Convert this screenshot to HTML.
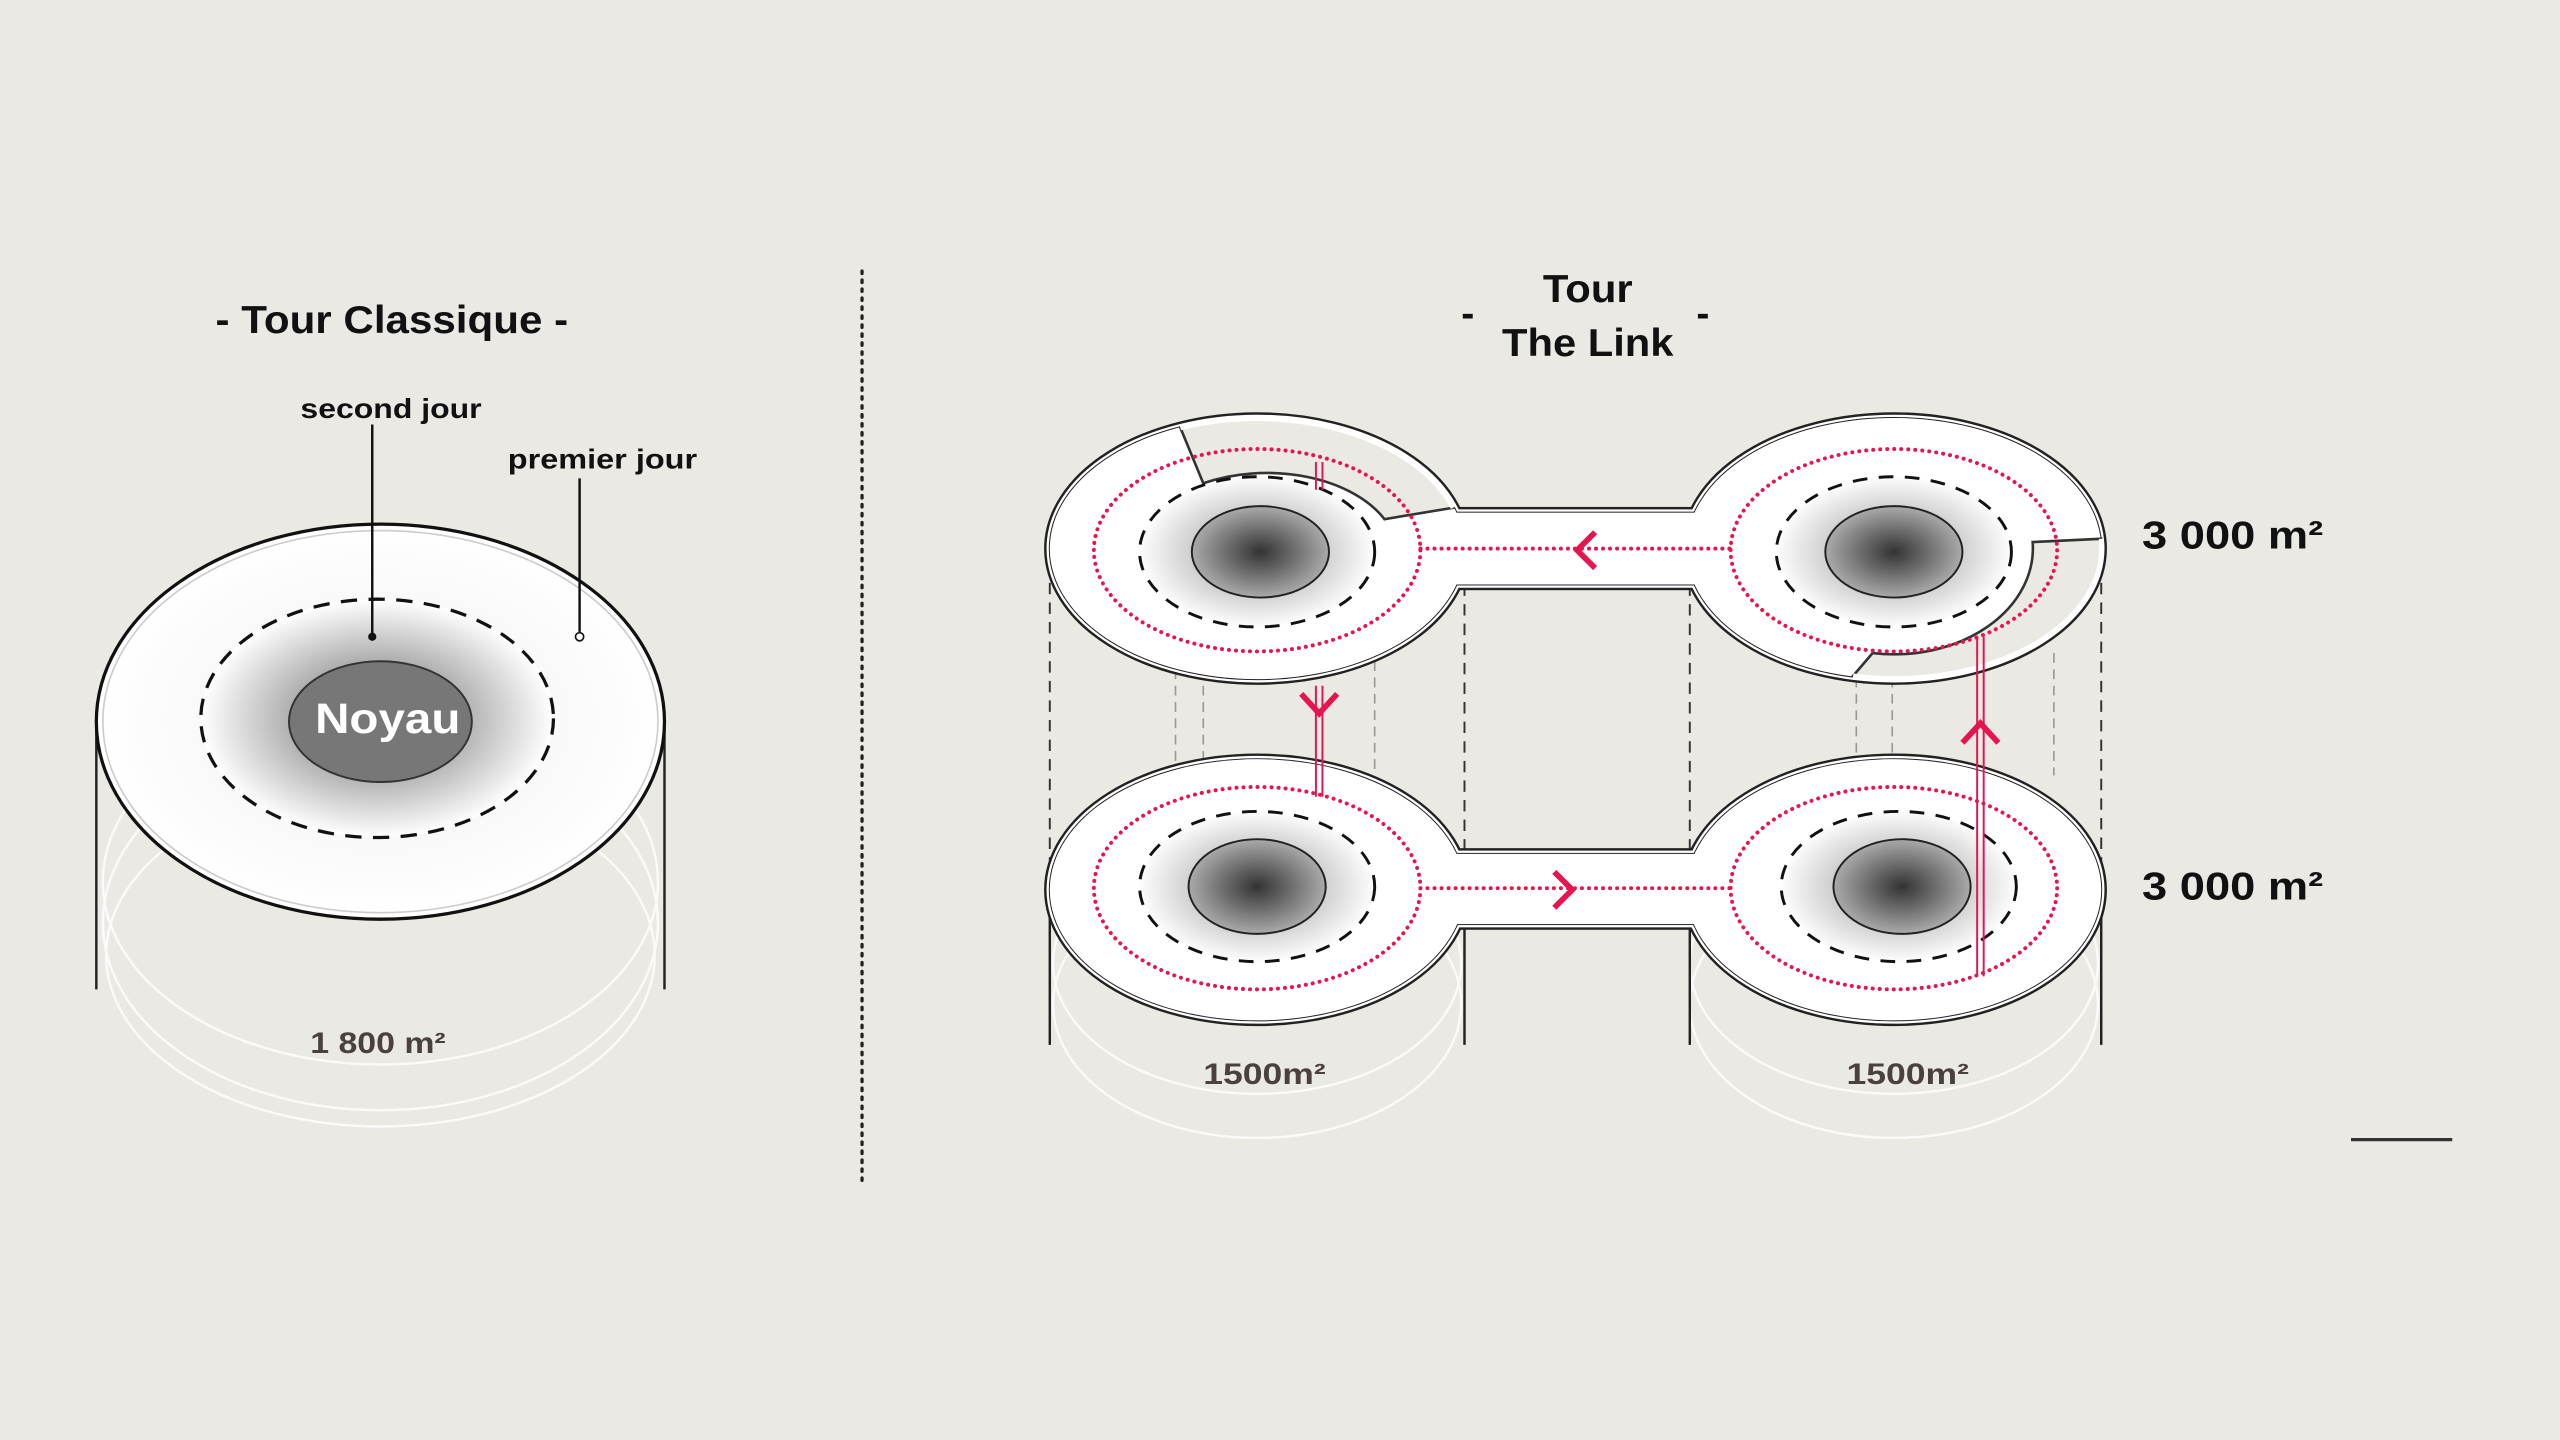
<!DOCTYPE html>
<html><head><meta charset="utf-8"><style>
html,body{margin:0;padding:0;background:#ebe9e4;}
svg{display:block}
text{font-family:"Liberation Sans",Arial,sans-serif;font-weight:bold}
</style></head><body>
<svg width="2560" height="1440" viewBox="0 0 1568 882" xmlns="http://www.w3.org/2000/svg">
<defs>
<radialGradient id="g1" cx="50%" cy="50%" r="50%">
<stop offset="0" stop-color="#555"/><stop offset="0.35" stop-color="#999"/><stop offset="1" stop-color="#fff"/>
</radialGradient>
<radialGradient id="g2" cx="50%" cy="50%" r="50%">
<stop offset="0" stop-color="#333"/><stop offset="1" stop-color="#aaa"/>
</radialGradient>
<radialGradient id="g3" cx="50%" cy="50%" r="50%">
<stop offset="0" stop-color="#f0f0f0"/><stop offset="0.7" stop-color="#fafafa"/><stop offset="1" stop-color="#fff"/>
</radialGradient>
<radialGradient id="g4" cx="50%" cy="50%" r="50%">
<stop offset="0" stop-color="#888"/><stop offset="0.5" stop-color="#c8c8c8"/><stop offset="1" stop-color="#fdfdfd"/>
</radialGradient>
</defs>
<rect width="1568" height="882" fill="#ebe9e4"/>

<!-- LEFT -->
<text x="132" y="204" font-size="24" textLength="216" lengthAdjust="spacingAndGlyphs" fill="#111">- Tour Classique -</text>
<text x="184" y="256" font-size="17" textLength="111" lengthAdjust="spacingAndGlyphs" fill="#111">second jour</text>
<text x="311" y="287" font-size="17" textLength="116" lengthAdjust="spacingAndGlyphs" fill="#111">premier jour</text>
<g fill="none" stroke="#fff" stroke-width="1.5" opacity="0.8">
<ellipse cx="233" cy="540" rx="170" ry="112"/>
<ellipse cx="233" cy="565" rx="170" ry="115"/>
<ellipse cx="233" cy="585" rx="168" ry="105"/>
</g>
<line x1="59" y1="445" x2="59" y2="606" stroke="#222" stroke-width="1.5"/>
<line x1="407" y1="445" x2="407" y2="606" stroke="#222" stroke-width="1.5"/>
<ellipse cx="233" cy="442" rx="174" ry="121" fill="url(#g3)" stroke="#111" stroke-width="2"/>
<ellipse cx="233" cy="442" rx="170" ry="117" fill="none" stroke="#ccc" stroke-width="1"/>
<ellipse cx="231" cy="440" rx="108" ry="73" fill="url(#g1)" stroke="#111" stroke-width="2" stroke-dasharray="10 7"/>
<ellipse cx="233" cy="442" rx="56" ry="37" fill="#777" stroke="#333" stroke-width="1.2"/>
<text x="193" y="449" font-size="26" textLength="89" lengthAdjust="spacingAndGlyphs" fill="#fff">Noyau</text>
<line x1="228" y1="260" x2="228" y2="390" stroke="#111" stroke-width="1.5"/>
<circle cx="228" cy="390" r="2.5" fill="#111"/>
<line x1="355" y1="293" x2="355" y2="387" stroke="#111" stroke-width="1.5"/>
<circle cx="355" cy="390" r="2.5" fill="#fff" stroke="#111" stroke-width="1"/>
<text x="190" y="645" font-size="18" textLength="83" lengthAdjust="spacingAndGlyphs" fill="#4a4040">1 800 m²</text>
<line x1="528" y1="166" x2="528" y2="726" stroke="#222" stroke-width="2" stroke-dasharray="1.5 4" stroke-linecap="round"/>

<!-- RIGHT -->
<text x="945" y="185" font-size="24" textLength="55" lengthAdjust="spacingAndGlyphs" fill="#111">Tour</text>
<text x="920" y="218" font-size="24" textLength="105" lengthAdjust="spacingAndGlyphs" fill="#111">The Link</text>
<text x="899" y="200" font-size="24" text-anchor="middle" fill="#111">-</text>
<text x="1043" y="200" font-size="24" text-anchor="middle" fill="#111">-</text>

<g fill="none" stroke="#fff" stroke-width="1.5" opacity="0.8">
<ellipse cx="770" cy="590" rx="125" ry="80"/><ellipse cx="770" cy="615" rx="125" ry="82"/>
<ellipse cx="1160" cy="590" rx="125" ry="80"/><ellipse cx="1160" cy="615" rx="125" ry="82"/>
</g>
<g stroke="#222" stroke-width="1.5">
<line x1="643" y1="545" x2="643" y2="640"/><line x1="897" y1="560" x2="897" y2="640"/>
<line x1="1035" y1="560" x2="1035" y2="640"/><line x1="1287" y1="545" x2="1287" y2="640"/>
</g>
<g stroke="#333" stroke-width="1.2" stroke-dasharray="7 5">
<line x1="643" y1="345" x2="643" y2="545"/><line x1="897" y1="358" x2="897" y2="525"/>
<line x1="1035" y1="358" x2="1035" y2="525"/><line x1="1287" y1="345" x2="1287" y2="545"/>
</g>
<g stroke="#999" stroke-width="1" stroke-dasharray="6 4">
<line x1="720" y1="410" x2="720" y2="470"/><line x1="737" y1="410" x2="737" y2="470"/><line x1="842" y1="405" x2="842" y2="475"/>
<line x1="1137" y1="415" x2="1137" y2="610"/><line x1="1159" y1="415" x2="1159" y2="470"/><line x1="1258" y1="400" x2="1258" y2="475"/>
</g>

<g stroke="#222" stroke-width="7" fill="none">
<ellipse cx="770" cy="336" rx="127" ry="80"/><ellipse cx="1160" cy="336" rx="127" ry="80"/>
<rect x="860" y="314" width="210" height="44"/>
<ellipse cx="770" cy="545" rx="127" ry="80"/><ellipse cx="1160" cy="545" rx="127" ry="80"/>
<rect x="860" y="523" width="210" height="43"/>
</g>
<g stroke="#fff" stroke-width="4" fill="none">
<ellipse cx="770" cy="336" rx="127" ry="80"/><ellipse cx="1160" cy="336" rx="127" ry="80"/>
<rect x="860" y="314" width="210" height="44"/>
<ellipse cx="770" cy="545" rx="127" ry="80"/><ellipse cx="1160" cy="545" rx="127" ry="80"/>
<rect x="860" y="523" width="210" height="43"/>
</g>
<g stroke="#222" stroke-width="1.2" fill="none">
<ellipse cx="770" cy="336" rx="127" ry="80"/><ellipse cx="1160" cy="336" rx="127" ry="80"/>
<rect x="860" y="314" width="210" height="44"/>
<ellipse cx="770" cy="545" rx="127" ry="80"/><ellipse cx="1160" cy="545" rx="127" ry="80"/>
<rect x="860" y="523" width="210" height="43"/>
</g>
<g fill="#fff">
<ellipse cx="770" cy="336" rx="127" ry="80"/><ellipse cx="1160" cy="336" rx="127" ry="80"/>
<rect x="860" y="314" width="210" height="44"/>
<ellipse cx="770" cy="545" rx="127" ry="80"/><ellipse cx="1160" cy="545" rx="127" ry="80"/>
<rect x="860" y="523" width="210" height="43"/>
</g>

<!-- cutouts -->
<path d="M723,262 A127,80 0 0 1 890,311 L848,318 A80,50 0 0 0 737,296 Z" fill="#ebe9e4" stroke="#333" stroke-width="1.6"/>
<path d="M723,262 A127,80 0 0 1 890,311" fill="none" stroke="#fff" stroke-width="3"/>
<path d="M1287,330 A127,80 0 0 1 1135,414 L1147,400 A85,65 0 0 0 1245,332 Z" fill="#ebe9e4" stroke="#333" stroke-width="1.6"/>
<path d="M1287,330 A127,80 0 0 1 1135,414" fill="none" stroke="#fff" stroke-width="3"/>
<rect x="888" y="316" width="12" height="40" fill="#fff"/>

<g stroke="#111" stroke-width="1.8" stroke-dasharray="9 7" fill="url(#g4)">
<ellipse cx="770" cy="338" rx="72" ry="46"/><ellipse cx="1160" cy="338" rx="72" ry="46"/>
<ellipse cx="770" cy="543" rx="72" ry="46"/><ellipse cx="1163" cy="543" rx="72" ry="46"/>
</g>
<g stroke="#222" stroke-width="1.2" fill="url(#g2)">
<ellipse cx="772" cy="338" rx="42" ry="28"/><ellipse cx="1160" cy="338" rx="42" ry="28"/>
<ellipse cx="770" cy="543" rx="42" ry="29"/><ellipse cx="1165" cy="543" rx="42" ry="29"/>
</g>

<g stroke="#e5154f" stroke-width="2.4" stroke-dasharray="0.1 4.2" stroke-linecap="round" fill="none">
<ellipse cx="770" cy="337" rx="100" ry="62"/><ellipse cx="1160" cy="337" rx="100" ry="62"/>
<ellipse cx="770" cy="544" rx="100" ry="62"/><ellipse cx="1160" cy="544" rx="100" ry="62"/>
<line x1="870" y1="336" x2="1060" y2="336"/><line x1="870" y1="544" x2="1060" y2="544"/>
</g>
<g stroke="#e5154f" stroke-width="3.5" fill="none">
<polyline points="977,326 966,337 977,348"/>
<polyline points="952,534 963,545 952,556"/>
<polyline points="797,425 808,437 819,425"/>
<polyline points="1202,455 1213,443 1224,455"/>
</g>
<g stroke="#e5154f" stroke-width="1.2" fill="none">
<line x1="806" y1="283" x2="806" y2="300"/><line x1="810" y1="283" x2="810" y2="300"/>
<line x1="806" y1="420" x2="806" y2="488"/><line x1="810" y1="420" x2="810" y2="488"/>
<line x1="1211" y1="390" x2="1211" y2="598"/><line x1="1215" y1="390" x2="1215" y2="598"/>
</g>

<text x="1312" y="336" font-size="24" textLength="111" lengthAdjust="spacingAndGlyphs" fill="#111">3 000 m²</text>
<text x="1312" y="551" font-size="24" textLength="111" lengthAdjust="spacingAndGlyphs" fill="#111">3 000 m²</text>
<text x="737" y="664" font-size="18" textLength="75" lengthAdjust="spacingAndGlyphs" fill="#4a4040">1500m²</text>
<text x="1131" y="664" font-size="18" textLength="75" lengthAdjust="spacingAndGlyphs" fill="#4a4040">1500m²</text>
<line x1="1440" y1="698" x2="1502" y2="698" stroke="#333" stroke-width="2"/>
</svg>
</body></html>
